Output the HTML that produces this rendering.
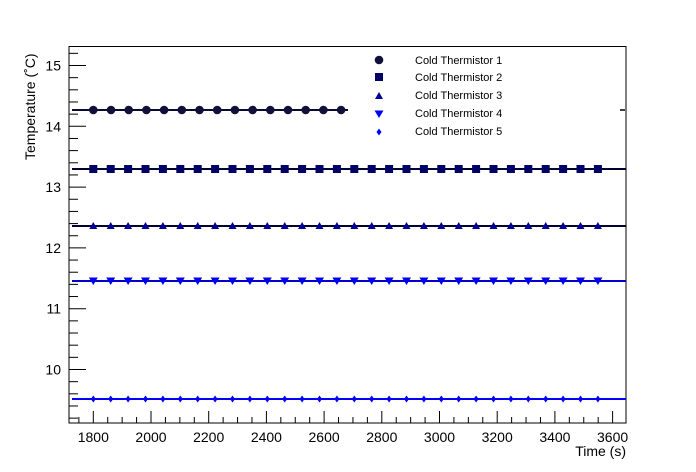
<!DOCTYPE html>
<html><head><meta charset="utf-8"><style>
html,body{margin:0;padding:0;background:#fff;}
svg{display:block;font-family:"Liberation Sans",Arial,sans-serif;}
</style></head><body>
<svg id="s" width="696" height="472" viewBox="0 0 696 472" xmlns="http://www.w3.org/2000/svg">
<defs>
<circle id="m1" r="4.3" fill="#10103a"/>
<rect id="m2" x="-4" y="-4" width="8" height="8" fill="#000066"/>
<polygon id="m3" points="0,-4 4,3 -4,3" fill="#000099"/>
<polygon id="m4" points="-4.5,-3.5 4.5,-3.5 0,4" fill="#0000ee"/>
<polygon id="m5" points="0,-3.5 2.5,0 0,3.5 -2.5,0" fill="#0000ff"/>
</defs>
<rect x="69" y="46.5" width="557" height="376.5" fill="none" stroke="#000" stroke-width="1"/>
<g id="g"></g>
<text x="626" y="456" font-size="14" text-anchor="end">Time (s)</text>
<text transform="translate(35,160) rotate(-90)" font-size="14">Temperature (˚C)</text>
<g font-size="11">
<use href="#m1" x="379" y="60"/><text x="415" y="64">Cold Thermistor 1</text>
<use href="#m2" x="379" y="77"/><text x="415" y="81">Cold Thermistor 2</text>
<use href="#m3" x="379" y="96"/><text x="415" y="99">Cold Thermistor 3</text>
<use href="#m4" x="379" y="114"/><text x="415" y="117">Cold Thermistor 4</text>
<use href="#m5" x="379" y="132"/><text x="415" y="135">Cold Thermistor 5</text>
</g>
<line x1="620" y1="110" x2="625" y2="110" stroke="#000" stroke-width="1.5"/>
</svg>
<script>
var g=document.getElementById('g'),h='';
function X(t){return 93.3+(t-1800)*0.2885;}
function Y(v){return 126.3-(v-14)*60.8;}
for(var t=1750;t<=3640;t+=50){var x=X(t),maj=t%200==0;h+='<line x1="'+x+'" y1="423" x2="'+x+'" y2="'+(maj?411:417)+'" stroke="#000"/>';
 if(maj)h+='<text x="'+x+'" y="442" font-size="14" text-anchor="middle">'+t+'</text>';}
for(var i=46;i<=76;i++){var v=i/5,y=Y(v);if(y<47||y>423)continue;var maj=i%5==0;h+='<line x1="69" y1="'+y+'" x2="'+(maj?86:78)+'" y2="'+y+'" stroke="#000"/>';
 if(maj)h+='<text x="61" y="'+(y+5)+'" font-size="14" text-anchor="end">'+(i/5)+'</text>';}
var ser=[[110,'#0a0a30',15,'m1',348,17.7],[169,'#000033',30,'m2',626,17.4],[226,'#000033',30,'m3',626,17.4],[281,'#0000cc',30,'m4',626,17.4],[399,'#0000ff',30,'m5',626,17.4]];
ser.forEach(function(s){h+='<line x1="72" y1="'+s[0]+'" x2="'+s[4]+'" y2="'+s[0]+'" stroke="'+s[1]+'" stroke-width="2"/>';
 for(var k=0;k<s[2];k++){var x=93.3+k*s[5];h+='<use href="#'+s[3]+'" x="'+x.toFixed(1)+'" y="'+s[0]+'"/>';}});
g.innerHTML=h;
</script>
</body></html>
